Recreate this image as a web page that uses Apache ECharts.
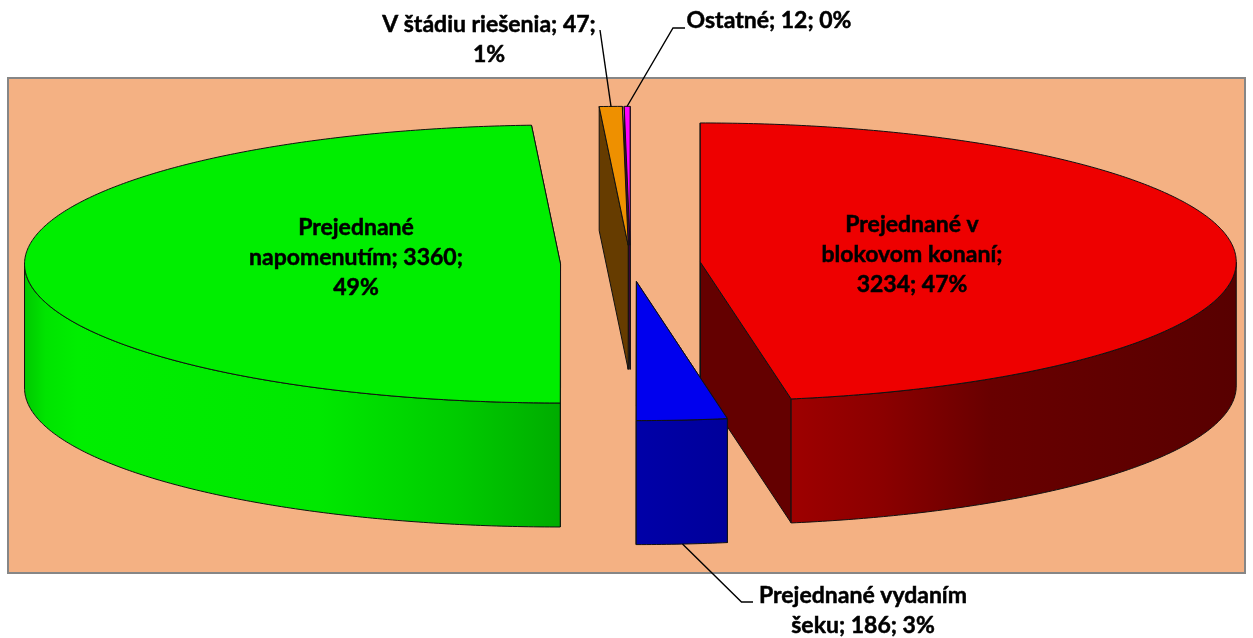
<!DOCTYPE html>
<html><head><meta charset="utf-8">
<style>html,body{margin:0;padding:0;background:#fff}#c{width:1253px;height:638px}</style>
<script src="https://cdn.jsdelivr.net/npm/echarts@6/dist/echarts.min.js"></script>
</head><body><div id="c"></div>
<script>
// ---- data ----
const categories = ['Prejednané v blokovom konaní','Prejednané vydaním šeku','Prejednané napomenutím','V štádiu riešenia','Ostatné'];
const values = [3234,186,3360,47,12];
const percents = [47,3,49,1,0];

// ---- layout / style ----
const PIE = {cx:630.5, cy:263.5, rx:536, ry:139, depth:124, explode:70};
const drawOrder = [4,3,2,0,1];
const sliceStyles = [
  {top:'#EE0000', face:'#640000', stops:[[0,'#9E0000'],[0.2,'#8C0000'],[0.45,'#680000'],[1,'#580000']]},
  {top:'#0000EE', face:'#00007A', stops:[[0,'#0000A8'],[1,'#00009A']]},
  {top:'#00EE00', face:'#006000', stops:[[0,'#00C800'],[0.04,'#00E400'],[0.1,'#00EE00'],[0.55,'#00E800'],[0.8,'#00CC00'],[1,'#00AC00']]},
  {top:'#EE9000', face:'#663C00', stops:[[0,'#663C00'],[1,'#663C00']]},
  {top:'#FF00FF', face:'#500050', stops:[[0,'#500050'],[1,'#500050']]}
];
const labelLayout = [
  {x:912, y:225, wrap:18},
  {x:863, y:596, wrap:18, leader:[[682.5,544],[741.5,602],[753,602]]},
  {x:356, y:228, wrap:18},
  {x:489, y:25,  wrap:22, leader:[[600,30],[611,106.5]]},
  {x:769, y:21,  wrap:22, leader:[[627,106.5],[673,28],[685,28]]}
];
const FONT = {family:'Lato', size:23, line:30};

// ---- geometry derived from values ----
const total = values.reduce((a,b)=>a+b,0);
const starts = [];
values.reduce((acc,v,i)=>{starts[i]=acc; return acc+v;},0);
const toAngle = v => v/total*2*Math.PI;

function slicePoint(c,a){ return [c[0]+PIE.rx*Math.sin(a), c[1]-PIE.ry*Math.cos(a)]; }
function arc(c,a0,a1,dy){
  const n=Math.max(2,Math.ceil(Math.abs(a1-a0)/0.01)), pts=[];
  for(let i=0;i<=n;i++){const p=slicePoint(c,a0+(a1-a0)*i/n); pts.push([p[0],p[1]+(dy||0)]);}
  return pts;
}
const EDGE={stroke:'#111111', lineWidth:1, lineJoin:'round'};
function poly(points,fill){ return {type:'polygon',shape:{points},style:Object.assign({fill},EDGE)}; }

function renderSlice(params,api){
  const i=api.value(0), a0=toAngle(starts[i]), a1=toAngle(starts[i]+values[i]), mid=(a0+a1)/2;
  const s=sliceStyles[i];
  const c=[PIE.cx+PIE.explode*Math.sin(mid), PIE.cy-PIE.explode*Math.cos(mid)*PIE.ry/PIE.rx];
  const d=PIE.depth, kids=[];
  const face=a=>{const p=slicePoint(c,a); return poly([c,p,[p[0],p[1]+d],[c[0],c[1]+d]],s.face);};
  kids.push(face(a1)); kids.push(face(a0));
  const f0=Math.max(a0,Math.PI/2), f1=Math.min(a1,Math.PI*1.5);
  if(f1>f0){
    const top=arc(c,f0,f1,0), bot=arc(c,f1,f0,d);
    kids.push({type:'polygon',shape:{points:top.concat(bot)},style:Object.assign({
      fill:new echarts.graphic.LinearGradient(0,0,1,0,s.stops.map(t=>({offset:t[0],color:t[1]})))},EDGE)});
  }
  kids.push(poly([c].concat(arc(c,a0,a1,0)),s.top));
  return {type:'group',children:kids};
}

function wrapText(str,w){
  const lines=[]; let cur='';
  str.split(' ').forEach(t=>{ const n=cur?cur+' '+t:t; if(n.length>w){lines.push(cur);cur=t;} else cur=n; });
  lines.push(cur); return lines;
}
function renderLabel(params,api){
  const i=api.value(0), l=labelLayout[i], kids=[];
  if(l.leader) kids.push({type:'polyline',shape:{points:l.leader},style:{stroke:'#000',lineWidth:1.4,fill:null}});
  const lines=wrapText(categories[i]+'; '+values[i]+'; '+percents[i]+'%',l.wrap);
  lines.forEach((t,k)=>kids.push({type:'text',x:l.x,y:l.y+k*FONT.line,style:{
    text:t,fill:'#000',stroke:'#000',lineWidth:0.5,align:'center',verticalAlign:'middle',
    font:'bold '+FONT.size+'px '+FONT.family}}));
  return {type:'group',children:kids};
}

const chart=echarts.init(document.getElementById('c'),null,{renderer:'canvas'});
chart.setOption({
  animation:false,
  backgroundColor:'#FFFFFF',
  grid:{show:true,left:8,top:78,right:8,bottom:65,backgroundColor:'#F4B183',borderColor:'#868686',borderWidth:2},
  xAxis:{type:'value',show:false,min:0,max:1},
  yAxis:{type:'value',show:false,min:0,max:1},
  series:[
    {type:'custom',coordinateSystem:'none',silent:true,z:2,clip:false,renderItem:renderSlice,
     data:drawOrder.map(i=>[i,values[i]])},
    {type:'custom',coordinateSystem:'none',silent:true,z:3,clip:false,renderItem:renderLabel,
     data:categories.map((c,i)=>[i,values[i]])}
  ]
});
</script></body></html>
